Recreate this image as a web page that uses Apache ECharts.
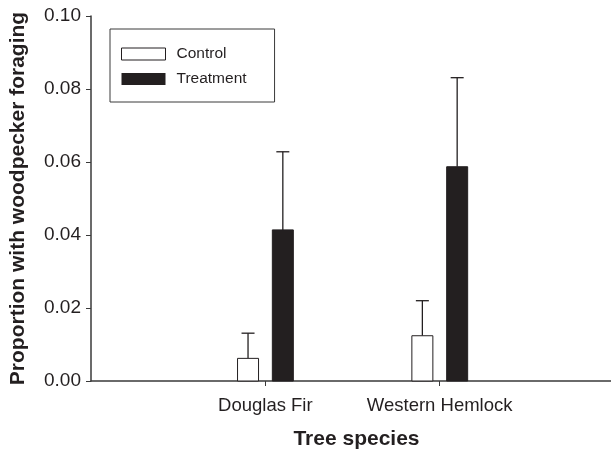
<!DOCTYPE html>
<html>
<head>
<meta charset="utf-8">
<script src="https://cdn.jsdelivr.net/npm/echarts@6/dist/echarts.min.js"></script>
<style>
  html, body { margin: 0; padding: 0; background: #fff; }
  #chart { width: 611px; height: 451px; }
</style>
</head>
<body>
<div id="chart"></div>
<script>
// tree species, placed at x = 1, 2 on the value axis
var categories = ['Douglas Fir', 'Western Hemlock']
var categoryPos = [1, 2]
var yTicks = [0, 0.02, 0.04, 0.06, 0.08, 0.10]

var controlMean = [0.0062, 0.0124]
var controlSE = [0.0069, 0.0096]
var treatmentMean = [0.0414, 0.0587]
var treatmentSE = [0.0214, 0.0244]

var ink = '#231f20'
var font = 'Arial, "Liberation Sans", Helvetica, sans-serif'

function toRows(mean, se) {
  return categoryPos.map(function (x, i) { return [x, mean[i], se[i]] })
}

// bar + upper error bar, shifted by a pixel offset from the category tick
function makeRender(offset, fill) {
  return function (params, api) {
    var x = api.value(0)
    var top = api.coord([x, api.value(1)])
    var base = api.coord([x, 0])
    var errTop = api.coord([x, api.value(1) + api.value(2)])
    var cx = top[0] + offset
    var w = 21
    var cap = 6.5
    return {
      type: 'group',
      children: [
        {
          type: 'line',
          shape: { x1: cx, y1: top[1], x2: cx, y2: errTop[1] },
          style: { stroke: ink, lineWidth: 1.3 }
        },
        {
          type: 'line',
          shape: { x1: cx - cap, y1: errTop[1], x2: cx + cap, y2: errTop[1] },
          style: { stroke: ink, lineWidth: 1.3 }
        },
        {
          type: 'rect',
          shape: { x: cx - w / 2, y: top[1], width: w, height: base[1] - top[1] },
          style: { fill: fill, stroke: ink, lineWidth: 1 }
        }
      ]
    }
  }
}

var chart = echarts.init(document.getElementById('chart'))
chart.setOption({
  animation: false,
  textStyle: { fontFamily: font, color: ink },
  grid: { left: 91, right: -3, top: 16, bottom: 70, containLabel: false, outerBoundsMode: 'none' },
  legend: {
    orient: 'vertical',
    left: 110,
    top: 29,
    padding: [17, 28, 15, 11],
    itemGap: 9,
    itemWidth: 44,
    itemHeight: 12,
    borderColor: '#3a3a3a',
    borderWidth: 1,
    textStyle: { fontSize: 15.5, color: ink, fontFamily: font, padding: [0, 0, 0, 6] },
    data: [
      { name: 'Control', icon: 'rect', itemStyle: { color: '#fff', borderColor: ink, borderWidth: 1 } },
      { name: 'Treatment', icon: 'rect', itemStyle: { color: ink, borderWidth: 0 } }
    ]
  },
  xAxis: {
    type: 'value',
    min: 0,
    max: 3,
    interval: 1,
    name: 'Tree species',
    nameLocation: 'middle',
    nameGap: 48,
    nameTextStyle: { fontSize: 21, fontWeight: 'bold', color: ink, padding: [0, 0, 0, 8] },
    splitLine: { show: false },
    axisLine: { lineStyle: { color: '#3a3a3a', width: 1.5 } },
    axisTick: { show: true, customValues: categoryPos, length: 5, lineStyle: { color: '#3a3a3a' } },
    axisLabel: {
      customValues: categoryPos,
      margin: 15,
      fontSize: 18.5,
      color: ink,
      formatter: function (v) { return categories[categoryPos.indexOf(v)] || '' }
    }
  },
  yAxis: {
    type: 'value',
    min: 0,
    max: 0.1,
    interval: 0.02,
    name: 'Proportion with woodpecker foraging',
    nameLocation: 'middle',
    nameGap: 62,
    nameTextStyle: { fontSize: 21, fontWeight: 'bold', color: ink },
    splitLine: { show: false },
    axisLine: { show: true, lineStyle: { color: '#3a3a3a', width: 1.5 } },
    axisTick: { show: true, length: 5, lineStyle: { color: '#3a3a3a' } },
    axisLabel: {
      margin: 10,
      fontSize: 19,
      color: ink,
      formatter: function (v) { return v.toFixed(2) }
    }
  },
  series: [
    {
      name: 'Control',
      type: 'custom',
      renderItem: makeRender(-17.3, '#fff'),
      itemStyle: { color: '#fff', borderColor: ink },
      data: toRows(controlMean, controlSE)
    },
    {
      name: 'Treatment',
      type: 'custom',
      renderItem: makeRender(17.5, ink),
      itemStyle: { color: ink },
      data: toRows(treatmentMean, treatmentSE)
    }
  ]
})
</script>
</body>
</html>
